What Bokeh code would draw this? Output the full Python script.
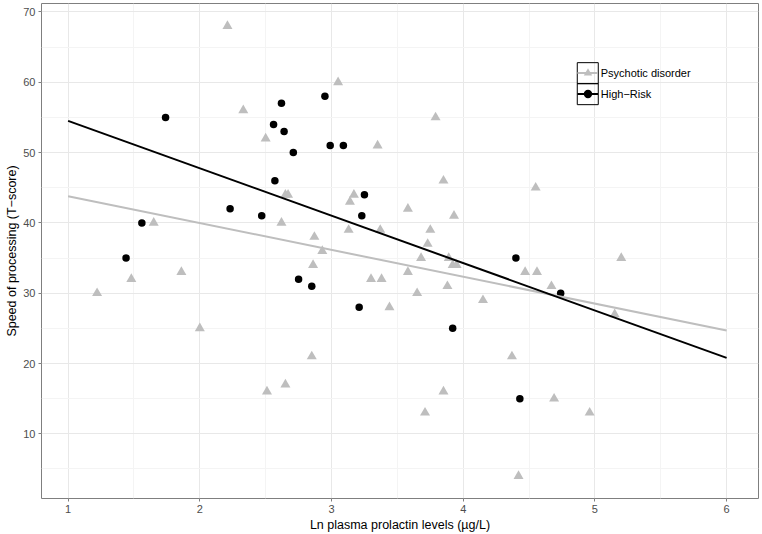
from bokeh.plotting import figure
from bokeh.models import Range1d, FixedTicker, Legend, LegendItem, BoxAnnotation
from bokeh.embed import file_html
from bokeh.resources import INLINE

# ---- data ----
series_names = ["Psychotic disorder", "High\u2212Risk"]

# Psychotic disorder (grey triangles)
pd_x = [2.21, 2.33, 2.50, 3.05, 3.79, 3.35, 3.85, 4.55, 2.65, 2.67, 3.17, 3.14, 3.58,
        3.93, 2.62, 1.65, 2.87, 3.13, 3.37, 3.75, 3.73, 2.93, 3.68, 3.89, 1.22, 1.48,
        1.86, 2.00, 2.51, 2.65, 2.86, 2.85, 3.30, 3.38, 3.44, 3.58, 3.65, 3.92, 3.95,
        3.88, 4.15, 4.37, 3.85, 3.71, 4.42, 4.47, 4.56, 5.20, 4.67, 5.15, 4.69, 4.96]
pd_y = [68, 56, 52, 60, 55, 51, 46, 45, 44, 44, 44, 43, 42,
        41, 40, 40, 38, 39, 39, 39, 37, 36, 35, 35, 30, 32,
        33, 25, 16, 17, 34, 21, 32, 32, 28, 33, 30, 34, 34,
        31, 29, 21, 16, 13, 4, 33, 33, 35, 31, 27, 15, 13]

# High-Risk (black dots)
hr_x = [1.74, 2.62, 2.56, 2.64, 2.71, 2.57, 2.23, 2.47, 1.56, 1.44, 2.95,
        2.99, 3.09, 3.25, 3.23, 4.40, 2.75, 2.85, 3.21, 3.92, 4.43, 4.74]
hr_y = [55, 57, 54, 53, 50, 46, 42, 41, 40, 35, 58,
        51, 51, 44, 41, 35, 32, 31, 28, 25, 15, 30]

# fitted regression lines (end points)
fit_x = [1, 6]
pd_fit = [43.8, 24.7]
hr_fit = [54.5, 20.8]

x_ticks = [1, 2, 3, 4, 5, 6]
y_ticks = [10, 20, 30, 40, 50, 60, 70]

x_title = "Ln plasma prolactin levels (\u00b5g/L)"
y_title = "Speed of processing (T\u2212score)"

# ---- layout ----
W, H = 760, 534
MBL, MBR, MBT, MBB = 41, 2, 3, 35
X0, X1 = 0.798, 6.242
Y0, Y1 = 0.8, 71.2
FONT = "Liberation Sans"
GREY = "#BEBEBE"

p = figure(width=W, height=H, output_backend="svg", toolbar_location=None,
           x_range=Range1d(X0, X1), y_range=Range1d(Y0, Y1),
           min_border_left=MBL, min_border_right=MBR,
           min_border_top=MBT, min_border_bottom=MBB)
p.background_fill_color = "white"
p.border_fill_color = "white"
p.outline_line_color = "#7F7F7F"
p.outline_line_width = 1

p.xaxis.ticker = FixedTicker(ticks=x_ticks, minor_ticks=[t + 0.5 for t in x_ticks[:-1]])
p.yaxis.ticker = FixedTicker(ticks=y_ticks, minor_ticks=[t - 5 for t in y_ticks])

for g in (p.xgrid[0], p.ygrid[0]):
    g.grid_line_color = "#E8E8E8"
    g.grid_line_width = 1
    g.minor_grid_line_color = "#F4F4F4"
    g.minor_grid_line_width = 1

for ax in (p.xaxis[0], p.yaxis[0]):
    ax.axis_line_color = None
    ax.major_tick_line_color = "#7F7F7F"
    ax.major_tick_out = 3
    ax.major_tick_in = 0
    ax.minor_tick_line_color = None
    ax.major_label_text_font = FONT
    ax.major_label_text_font_size = "11px"
    ax.major_label_text_color = "#4D4D4D"
    ax.major_label_standoff = 2
    ax.axis_label_text_font = FONT
    ax.axis_label_text_font_size = "12.5px"
    ax.axis_label_text_font_style = "normal"
    ax.axis_label_text_color = "black"

p.xaxis.axis_label = x_title
p.yaxis.axis_label = y_title
p.xaxis.axis_label_standoff = 2
p.yaxis.axis_label_standoff = 1

p.scatter(pd_x, pd_y, marker="triangle", size=10, fill_color=GREY, line_color=None)
p.scatter(hr_x, hr_y, marker="circle", size=7.5, fill_color="black", line_color=None)
pd_line = p.line(fit_x, pd_fit, line_color=GREY, line_width=2)
hr_line = p.line(fit_x, hr_fit, line_color="black", line_width=2)

# legend key proxies: a single NaN point, never drawn in the plot, only styles the key
nan = float("nan")
pd_key = p.scatter([nan], [nan], marker="triangle", size=7, fill_color=GREY, line_color=None)
hr_key = p.scatter([nan], [nan], marker="circle", size=6, fill_color="black", line_color=None)

# ---- legend (ggplot style keys with boxes) ----
frame_w = W - MBL - MBR
frame_h = H - MBT - MBB
KEY = 21
lx = (4.866 - X0) / (X1 - X0) * frame_w
ly = (56.7 - Y0) / (Y1 - Y0) * frame_h

legend = Legend(items=[LegendItem(label=series_names[0], renderers=[pd_line, pd_key]),
                       LegendItem(label=series_names[1], renderers=[hr_line, hr_key])],
                location=(lx, ly), orientation="vertical", padding=0, margin=0, spacing=0,
                glyph_width=KEY, glyph_height=KEY, label_height=KEY, label_standoff=3,
                border_line_color=None, background_fill_alpha=0,
                label_text_font=FONT, label_text_font_size="11px", label_text_color="black")
p.add_layout(legend)

for i in range(2):
    p.add_layout(BoxAnnotation(left=lx, right=lx + KEY, bottom=ly + i * KEY, top=ly + (i + 1) * KEY,
                               left_units="screen", right_units="screen",
                               bottom_units="screen", top_units="screen",
                               fill_color=None, line_color="black", line_alpha=1, line_width=1))

open("out.html", "w").write(file_html(p, INLINE))
